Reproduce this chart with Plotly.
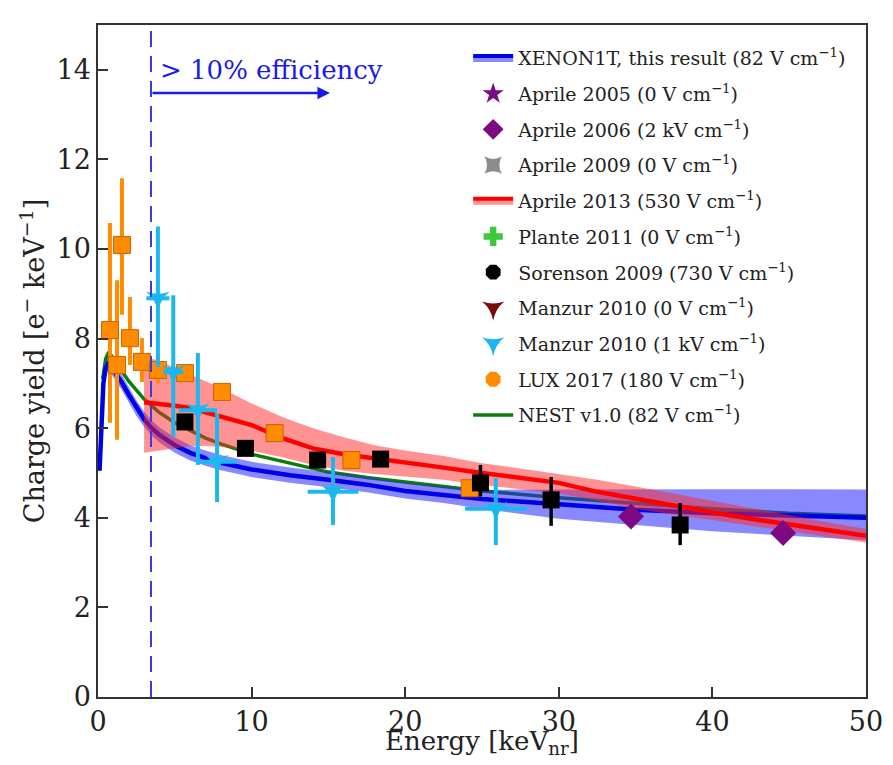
import plotly.graph_objects as go

# ---------------- data ----------------
xe_x = [0.1, 0.2, 0.35, 0.5, 0.7, 1.0, 1.5, 2.0, 2.5, 3.0, 3.5, 4.0, 5.0, 6.0, 7.0, 8.0, 10, 12.5, 15, 17.5, 20, 22.5, 25, 30, 35, 40, 45, 50]
xe_y = [5.05, 6.0, 7.0, 7.35, 7.45, 7.3, 7.05, 6.75, 6.45, 6.2, 6.0, 5.85, 5.62, 5.45, 5.33, 5.23, 5.08, 4.95, 4.85, 4.74, 4.6, 4.5, 4.42, 4.3, 4.18, 4.1, 4.04, 4.0]
xe_hi = [5.1, 6.1, 7.12, 7.5, 7.6, 7.46, 7.22, 6.92, 6.62, 6.37, 6.17, 6.02, 5.79, 5.62, 5.5, 5.4, 5.25, 5.12, 5.02, 4.91, 4.78, 4.7, 4.62, 4.63, 4.64, 4.64, 4.64, 4.63]
xe_lo = [5.0, 5.9, 6.88, 7.2, 7.3, 7.14, 6.88, 6.58, 6.28, 6.03, 5.83, 5.68, 5.45, 5.28, 5.16, 5.06, 4.91, 4.78, 4.68, 4.57, 4.43, 4.33, 4.2, 3.98, 3.84, 3.7, 3.6, 3.5]

ap13_x = [3, 4, 5, 6, 7, 8, 10, 12, 14, 16, 18, 20, 22.5, 25, 27.5, 30, 32.5, 35, 37.5, 40, 42.5, 45, 47.5, 50]
ap13_y = [6.58, 6.55, 6.5, 6.45, 6.35, 6.25, 6.07, 5.78, 5.55, 5.42, 5.32, 5.23, 5.12, 5.0, 4.9, 4.78, 4.58, 4.42, 4.26, 4.12, 3.98, 3.85, 3.72, 3.6]
ap13_hi = [7.6, 7.5, 7.35, 7.2, 7.05, 6.9, 6.55, 6.25, 6.0, 5.8, 5.62, 5.5, 5.38, 5.22, 5.1, 4.98, 4.85, 4.7, 4.54, 4.38, 4.22, 4.05, 3.9, 3.75]
ap13_lo = [5.45, 5.5, 5.55, 5.6, 5.6, 5.58, 5.5, 5.35, 5.18, 5.05, 4.98, 4.92, 4.85, 4.73, 4.64, 4.55, 4.38, 4.2, 4.07, 3.95, 3.82, 3.7, 3.57, 3.45]

nest_x = [0.3, 0.5, 0.7, 1.0, 1.5, 2.0, 2.5, 3.0, 4.0, 5.0, 6.0, 7.0, 8.0, 10, 12.5, 15, 17.5, 20, 22.5, 25, 30, 35, 40, 45, 50]
nest_y = [7.1, 7.55, 7.7, 7.55, 7.3, 7.05, 6.85, 6.65, 6.35, 6.12, 5.95, 5.78, 5.65, 5.42, 5.22, 5.02, 4.9, 4.8, 4.7, 4.6, 4.45, 4.32, 4.2, 4.1, 4.04]

lux_x = [0.78, 1.24, 1.56, 2.08, 2.86, 3.9, 5.66, 8.07, 11.5, 16.5, 24.2]
lux_y = [8.19, 7.41, 10.09, 8.01, 7.48, 7.3, 7.23, 6.81, 5.89, 5.29, 4.66]
lux_up = [2.39, 1.89, 1.49, 0.92, 0.53, 0.3, 0.2, 0.15, 0.1, 0.1, 0.1]
lux_dn = [2.07, 1.67, 1.56, 0.6, 0.45, 0.3, 0.2, 0.15, 0.1, 0.1, 0.1]

sor_x = [5.66, 9.6, 14.3, 18.4, 24.9, 29.5, 37.9]
sor_y = [6.14, 5.55, 5.29, 5.31, 4.78, 4.4, 3.84]
sor_up = [0.1, 0.1, 0.1, 0.12, 0.4, 0.51, 0.49]
sor_dn = [0.1, 0.1, 0.1, 0.12, 0.3, 0.58, 0.45]

ap06_x = [34.7, 44.6]
ap06_y = [4.03, 3.66]

man1_x = [3.9, 4.9, 6.5, 7.75, 15.3, 25.9]
man1_y = [8.9, 7.25, 6.4, 5.25, 4.58, 4.2]
man1_up = [1.6, 1.72, 1.28, 1.09, 0.78, 0.69]
man1_dn = [1.53, 1.45, 1.22, 0.9, 0.74, 0.81]
man1_xe = [0.75, 0.65, 1.25, 1.3, 1.65, 2.0]

eff_thr = 3.45
arrow_end = 15.1

# ---------------- styles ----------------
SERIF = "DejaVu Serif"
BLUE = "#0000e6"
BLUE_BAND = "rgba(40,40,255,0.55)"
RED = "#ff0000"
RED_BAND = "rgba(255,40,40,0.5)"
GREEN = "#0a7d0a"
PURPLE = "#7b0a83"
CYAN = "#1ab8ee"
ORANGE = "#ff8c00"

fig = go.Figure()
lg = 0


def grp():
    global lg
    lg += 1
    return "g%d" % lg


# NEST
fig.add_trace(go.Scatter(x=nest_x, y=nest_y, mode="lines", line=dict(color=GREEN, width=3.5),
                         showlegend=False, hoverinfo="skip"))
# XENON1T band
fig.add_trace(go.Scatter(x=xe_x + xe_x[::-1], y=xe_hi + xe_lo[::-1], fill="toself",
                         fillcolor=BLUE_BAND, line=dict(width=0), mode="lines",
                         showlegend=False, hoverinfo="skip"))
fig.add_trace(go.Scatter(x=xe_x, y=xe_y, mode="lines", line=dict(color=BLUE, width=4.5),
                         showlegend=False))
# Aprile 2013 band
fig.add_trace(go.Scatter(x=ap13_x + ap13_x[::-1], y=ap13_hi + ap13_lo[::-1], fill="toself",
                         fillcolor=RED_BAND, line=dict(width=0), mode="lines",
                         showlegend=False, hoverinfo="skip"))
fig.add_trace(go.Scatter(x=ap13_x, y=ap13_y, mode="lines", line=dict(color=RED, width=4.5),
                         showlegend=False))

# data points
fig.add_trace(go.Scatter(x=ap06_x, y=ap06_y, mode="markers",
                         marker=dict(symbol="diamond", size=20, color=PURPLE),
                         showlegend=False))
fig.add_trace(go.Scatter(x=lux_x, y=lux_y, mode="markers",
                         error_y=dict(type="data", symmetric=False, array=lux_up, arrayminus=lux_dn,
                                      color=ORANGE, thickness=4, width=0),
                         marker=dict(symbol="square", size=17, color=ORANGE,
                                     line=dict(color="#c86400", width=1)),
                         showlegend=False))
fig.add_trace(go.Scatter(x=sor_x, y=sor_y, mode="markers",
                         error_y=dict(type="data", symmetric=False, array=sor_up, arrayminus=sor_dn,
                                      color="black", thickness=3.5, width=0),
                         marker=dict(symbol="square", size=17, color="black"),
                         showlegend=False))
fig.add_trace(go.Scatter(x=man1_x, y=man1_y, mode="markers",
                         error_y=dict(type="data", symmetric=False, array=man1_up, arrayminus=man1_dn,
                                      color=CYAN, thickness=4, width=0),
                         error_x=dict(type="data", array=man1_xe, color=CYAN, thickness=4, width=0),
                         marker=dict(symbol="star-triangle-down", size=17, color=CYAN),
                         showlegend=False))

# ---------------- legend-only entries ----------------
leg_font = dict(family=SERIF, size=19, color="#222")
entries = [
    ("XENON1T, this result (82 V cm<sup>−1</sup>)", "band", BLUE, BLUE_BAND, None),
    ("Aprile 2005 (0 V cm<sup>−1</sup>)", "marker", PURPLE, None, "star"),
    ("Aprile 2006 (2 kV cm<sup>−1</sup>)", "marker", PURPLE, None, "diamond"),
    ("Aprile 2009 (0 V cm<sup>−1</sup>)", "marker", "#8c8c8c", None, "star-square"),
    ("Aprile 2013 (530 V cm<sup>−1</sup>)", "band", RED, RED_BAND, None),
    ("Plante 2011 (0 V cm<sup>−1</sup>)", "marker", "#3cc83c", None, "cross"),
    ("Sorenson 2009 (730 V cm<sup>−1</sup>)", "marker", "black", None, "octagon"),
    ("Manzur 2010 (0 V cm<sup>−1</sup>)", "marker", "#7a0a0a", None, "star-triangle-down"),
    ("Manzur 2010 (1 kV cm<sup>−1</sup>)", "marker", CYAN, None, "star-triangle-down"),
    ("LUX 2017 (180 V cm<sup>−1</sup>)", "marker", ORANGE, None, "octagon"),
    ("NEST v1.0 (82 V cm<sup>−1</sup>)", "line", GREEN, None, None),
]
for name, kind, col, band, sym in entries:
    g = grp()
    if kind == "band":
        fig.add_trace(go.Scatter(x=[None], y=[None], name=name, mode="lines", fill="toself",
                                 fillcolor=band, line=dict(color=col, width=4),
                                 legendgroup=g))
    elif kind == "line":
        fig.add_trace(go.Scatter(x=[None], y=[None], name=name, mode="lines",
                                 line=dict(color=col, width=3.5), legendgroup=g))
    else:
        fig.add_trace(go.Scatter(x=[None], y=[None], name=name, mode="markers",
                                 marker=dict(symbol=sym, size=17, color=col), legendgroup=g))

# efficiency threshold line and arrow
fig.add_shape(type="line", x0=eff_thr, x1=eff_thr, y0=0, y1=1, xref="x", yref="paper",
              line=dict(color="#3a3ae6", width=2, dash="16px,9px"))
fig.add_annotation(x=arrow_end, y=13.48, ax=eff_thr, ay=13.48, xref="x", yref="y",
                   axref="x", ayref="y", showarrow=True, arrowhead=2, arrowsize=1,
                   arrowwidth=2.5, arrowcolor="#1a1ae6", text="")
fig.add_annotation(x=eff_thr + 0.45, y=14.0, xref="x", yref="y", xanchor="left",
                   text="&gt; 10% efficiency", showarrow=False,
                   font=dict(family=SERIF, size=26, color="#1a1ae6"))

# x-axis title as a paper-positioned annotation (keeps it clear of the tick labels)
fig.add_annotation(x=0.5, y=-0.068, xref="paper", yref="paper", xanchor="center",
                   yanchor="middle", showarrow=False,
                   text="Energy [keV<sub>nr</sub>]",
                   font=dict(family=SERIF, size=26, color="#222"))

axis_common = dict(showline=True, linecolor="#333", linewidth=1.5, mirror=True,
                   ticks="inside", ticklen=10, tickwidth=1.5, tickcolor="#333",
                   showgrid=False, zeroline=False, automargin=False,
                   tickfont=dict(family=SERIF, size=27, color="#222"))

fig.update_layout(
    width=893, height=765,
    margin=dict(l=98, r=27, t=25, b=68),
    plot_bgcolor="white", paper_bgcolor="white",
    font=dict(family=SERIF),
    xaxis=dict(range=[0, 50], tickvals=[0, 10, 20, 30, 40, 50], **axis_common),
    yaxis=dict(range=[0, 15], tickvals=[0, 2, 4, 6, 8, 10, 12, 14],
               title=dict(text="Charge yield [e<sup>−</sup> keV<sup>−1</sup>]", standoff=4,
                          font=dict(family=SERIF, size=27, color="#222")),
               **axis_common),
    legend=dict(x=0.482, y=0.979, xanchor="left", yanchor="top", font=leg_font,
                bgcolor="rgba(255,255,255,0)", traceorder="grouped", tracegroupgap=8,
                itemwidth=40),
)

fig.write_html("out.html")
